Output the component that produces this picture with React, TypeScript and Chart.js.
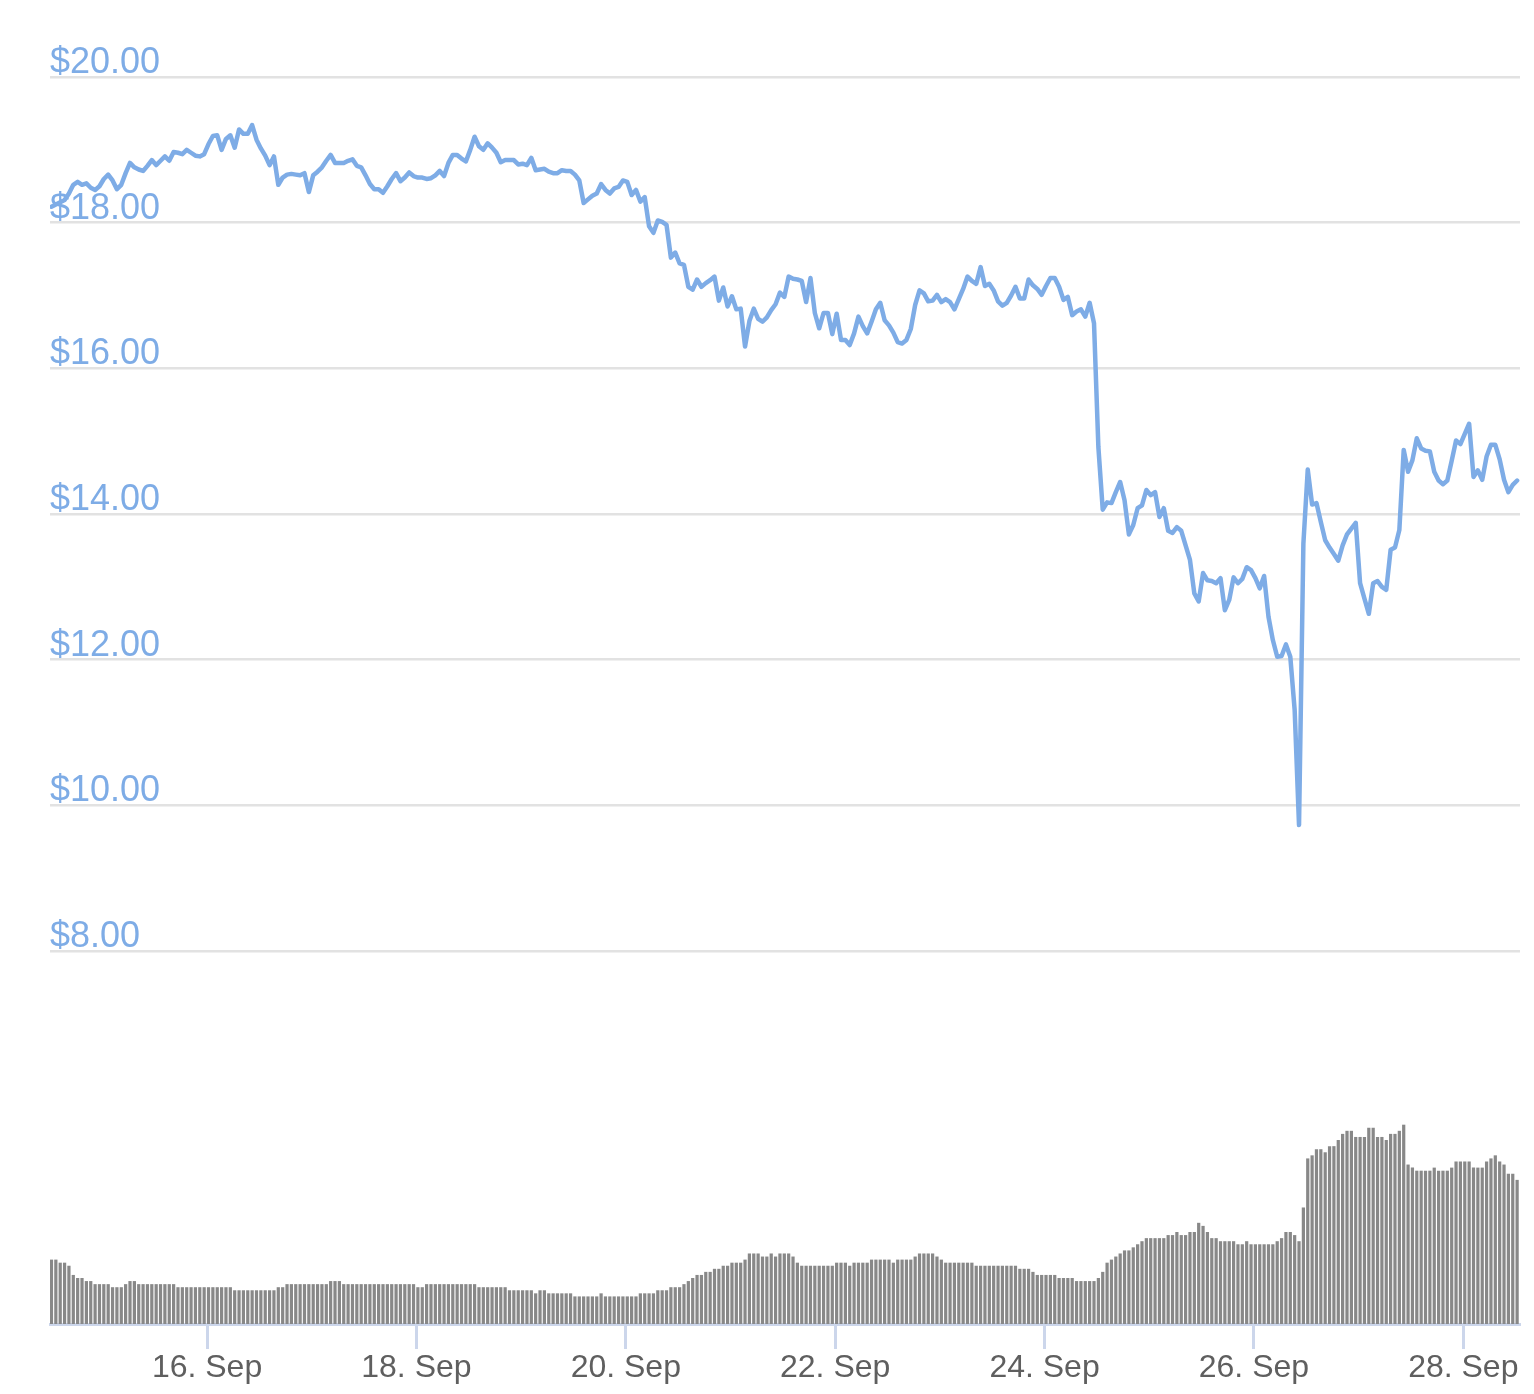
import { useEffect, useRef } from 'react';
import { Chart, registerables } from 'chart.js';

Chart.register(...registerables);

// hourly samples, hours counted from 14 Sep 00:00
const FIRST_SAMPLE_HOUR = 12.34;
const AXIS_START_HOUR = 12;
const AXIS_END_HOUR = 349;

const dayTicks = [16, 18, 20, 22, 24, 26, 28];
const priceTicks = [8, 10, 12, 14, 16, 18, 20];

const priceUsd = [
  18.22, 18.25, 18.28, 18.31, 18.40, 18.52, 18.56, 18.52, 18.54, 18.48, 18.45, 18.50,
  18.60, 18.66, 18.58, 18.46, 18.52, 18.68, 18.82, 18.76, 18.73, 18.71, 18.78, 18.86,
  18.79, 18.85, 18.91, 18.85, 18.97, 18.96, 18.94, 19.00, 18.96, 18.92, 18.91, 18.94,
  19.08, 19.19, 19.20, 19.00, 19.15, 19.20, 19.03, 19.28, 19.22, 19.22, 19.34, 19.14,
  19.02, 18.92, 18.79, 18.91, 18.52, 18.62, 18.66, 18.67, 18.66, 18.65, 18.68, 18.42,
  18.65, 18.70, 18.76, 18.85, 18.93, 18.82, 18.82, 18.82, 18.85, 18.87, 18.78, 18.76,
  18.65, 18.53, 18.46, 18.46, 18.41, 18.50, 18.60, 18.68, 18.57, 18.62, 18.69, 18.64,
  18.62, 18.62, 18.60, 18.61, 18.65, 18.71, 18.64, 18.82, 18.93, 18.93, 18.88, 18.84,
  19.00, 19.18, 19.05, 19.00, 19.09, 19.03, 18.96, 18.83, 18.86, 18.86, 18.86, 18.80,
  18.81, 18.79, 18.89, 18.72, 18.73, 18.74, 18.70, 18.68, 18.68, 18.72, 18.71, 18.71,
  18.66, 18.58, 18.27, 18.32, 18.37, 18.40, 18.53, 18.45, 18.40, 18.47, 18.49, 18.58,
  18.56, 18.38, 18.45, 18.29, 18.35, 17.95, 17.86, 18.03, 18.01, 17.97, 17.52, 17.59,
  17.44, 17.42, 17.12, 17.08, 17.22, 17.12, 17.17, 17.21, 17.26, 16.93, 17.11, 16.85,
  16.99, 16.81, 16.82, 16.30, 16.65, 16.82, 16.68, 16.64, 16.70, 16.80, 16.88, 17.04,
  16.98, 17.26, 17.23, 17.22, 17.20, 16.91, 17.24, 16.76, 16.55, 16.76, 16.76, 16.47,
  16.75, 16.39, 16.39, 16.32, 16.48, 16.71, 16.58, 16.48, 16.64, 16.81, 16.90, 16.66,
  16.59, 16.49, 16.36, 16.34, 16.39, 16.54, 16.87, 17.07, 17.03, 16.92, 16.93, 17.01,
  16.91, 16.95, 16.91, 16.81, 16.95, 17.09, 17.26, 17.20, 17.16, 17.39, 17.13, 17.16,
  17.07, 16.92, 16.86, 16.90, 17.00, 17.12, 16.96, 16.96, 17.22, 17.14, 17.09, 17.01,
  17.13, 17.24, 17.24, 17.12, 16.94, 16.98, 16.73, 16.78, 16.81, 16.71, 16.90, 16.62,
  14.92, 14.06, 14.16, 14.15, 14.30, 14.44, 14.19, 13.72, 13.85, 14.08, 14.12, 14.33,
  14.26, 14.30, 13.96, 14.08, 13.77, 13.74, 13.82, 13.77, 13.57, 13.37, 12.91, 12.80,
  13.19, 13.09, 13.08, 13.05, 13.12, 12.68, 12.82, 13.13, 13.05, 13.11, 13.27, 13.23,
  13.12, 12.98, 13.15, 12.59, 12.27, 12.04, 12.05, 12.21, 12.04, 11.31, 9.73, 13.59,
  14.61, 14.13, 14.15, 13.89, 13.64, 13.54, 13.45, 13.36, 13.57, 13.72, 13.80, 13.88,
  13.05, 12.84, 12.63, 13.05, 13.08, 13.00, 12.96, 13.51, 13.54, 13.78, 14.88, 14.58,
  14.74, 15.04, 14.90, 14.87, 14.86, 14.58, 14.46, 14.41, 14.46, 14.73, 15.01, 14.96,
  15.10, 15.24, 14.51, 14.60, 14.47, 14.79, 14.95, 14.95, 14.75, 14.47, 14.30, 14.40,
  14.46,
];

// traded volume, arbitrary units (no axis shown)
const volume = [
  63, 63, 60, 60, 57, 48, 45, 45, 42, 42, 39, 39,
  39, 39, 36, 36, 36, 39, 42, 42, 39, 39, 39, 39,
  39, 39, 39, 39, 39, 36, 36, 36, 36, 36, 36, 36,
  36, 36, 36, 36, 36, 36, 33, 33, 33, 33, 33, 33,
  33, 33, 33, 33, 36, 36, 39, 39, 39, 39, 39, 39,
  39, 39, 39, 39, 42, 42, 42, 39, 39, 39, 39, 39,
  39, 39, 39, 39, 39, 39, 39, 39, 39, 39, 39, 39,
  36, 36, 39, 39, 39, 39, 39, 39, 39, 39, 39, 39,
  39, 39, 36, 36, 36, 36, 36, 36, 36, 33, 33, 33,
  33, 33, 33, 30, 33, 33, 30, 30, 30, 30, 30, 30,
  27, 27, 27, 27, 27, 27, 30, 27, 27, 27, 27, 27,
  27, 27, 27, 30, 30, 30, 30, 33, 33, 33, 36, 36,
  36, 39, 42, 45, 48, 48, 51, 51, 54, 54, 57, 57,
  60, 60, 60, 63, 69, 69, 69, 66, 66, 69, 66, 69,
  69, 69, 66, 60, 57, 57, 57, 57, 57, 57, 57, 57,
  60, 60, 60, 57, 60, 60, 60, 60, 63, 63, 63, 63,
  63, 60, 63, 63, 63, 63, 66, 69, 69, 69, 69, 66,
  63, 60, 60, 60, 60, 60, 60, 60, 57, 57, 57, 57,
  57, 57, 57, 57, 57, 57, 54, 54, 54, 51, 48, 48,
  48, 48, 48, 45, 45, 45, 45, 42, 42, 42, 42, 42,
  45, 51, 60, 63, 66, 69, 72, 72, 75, 78, 81, 84,
  84, 84, 84, 84, 87, 87, 90, 87, 87, 90, 90, 99,
  96, 90, 84, 84, 81, 81, 81, 81, 78, 78, 81, 78,
  78, 78, 78, 78, 78, 81, 84, 90, 90, 87, 81, 114,
  162, 165, 171, 171, 168, 174, 174, 180, 186, 189, 189, 183,
  183, 183, 192, 192, 183, 183, 180, 186, 186, 189, 195, 156,
  153, 150, 150, 150, 150, 153, 150, 150, 150, 153, 159, 159,
  159, 159, 153, 153, 153, 159, 162, 165, 159, 156, 147, 147,
  141,
];

const LINE_BLUE = '#7eace6';
const FONT = '"Liberation Sans", Arial, sans-serif';

export default function App() {
  const canvasRef = useRef<HTMLCanvasElement>(null);
  const chartRef = useRef<Chart | null>(null);

  useEffect(() => {
    if (!canvasRef.current) return;
    const ctx = canvasRef.current.getContext('2d');
    if (!ctx) return;

    if (chartRef.current) {
      chartRef.current.destroy();
    }

    const pricePoints = priceUsd.map((p, i) => ({ x: FIRST_SAMPLE_HOUR + i, y: p }));
    const volumePoints = volume.map((v, i) => ({ x: FIRST_SAMPLE_HOUR + i, y: v }));

    chartRef.current = new Chart(ctx, {
      type: 'line',
      data: {
        datasets: [
          {
            type: 'line',
            label: 'Price',
            data: pricePoints,
            yAxisID: 'y',
            borderColor: LINE_BLUE,
            borderWidth: 4.5,
            pointRadius: 0,
            tension: 0,
            borderJoinStyle: 'round',
            borderCapStyle: 'round',
            order: 0,
          },
          {
            type: 'bar',
            label: 'Volume',
            data: volumePoints,
            yAxisID: 'yv',
            backgroundColor: '#888888',
            barPercentage: 0.74,
            categoryPercentage: 1,
            order: 1,
          },
        ],
      } as any,
      options: {
        animation: false,
        responsive: true,
        maintainAspectRatio: false,
        layout: {
          padding: { top: 77, left: 50, right: 14, bottom: 7 },
        },
        plugins: {
          legend: { display: false },
          tooltip: { enabled: false },
        },
        scales: {
          x: {
            type: 'linear',
            min: AXIS_START_HOUR,
            max: AXIS_END_HOUR,
            offset: false,
            afterBuildTicks: (axis: any) => {
              axis.ticks = dayTicks.map(d => ({ value: (d - 14) * 24 }));
            },
            ticks: {
              autoSkip: false,
              maxRotation: 0,
              padding: 3,
              color: '#5f5f5f',
              font: { family: FONT, size: 32, lineHeight: 1 },
              callback: (v: any) => `${14 + Number(v) / 24}. Sep`,
            },
            grid: {
              drawOnChartArea: false,
              offset: false,
              tickLength: 25,
              tickWidth: 3,
              tickColor: '#ccd6eb',
            },
            border: { display: true, color: '#ccd6eb', width: 3 },
          },
          y: {
            position: 'left',
            min: 2.88,
            max: 20,
            afterBuildTicks: (axis: any) => {
              axis.ticks = priceTicks.map(value => ({ value }));
            },
            ticks: {
              mirror: true,
              padding: 0,
              labelOffset: -14,
              color: LINE_BLUE,
              font: { family: FONT, size: 36 },
              callback: (v: any) => '$' + Number(v).toFixed(2),
            },
            grid: { color: '#e2e2e2', lineWidth: 2.5, drawTicks: false },
            border: { display: false },
          },
          yv: {
            display: false,
            min: 0,
            max: 1220,
          },
        },
      } as any,
    });

    return () => {
      if (chartRef.current) {
        chartRef.current.destroy();
        chartRef.current = null;
      }
    };
  }, []);

  return (
    <div style={{ position: 'absolute', left: 0, top: 0, width: 1534, height: 1394, background: '#fff' }}>
      <canvas ref={canvasRef}></canvas>
    </div>
  );
}
